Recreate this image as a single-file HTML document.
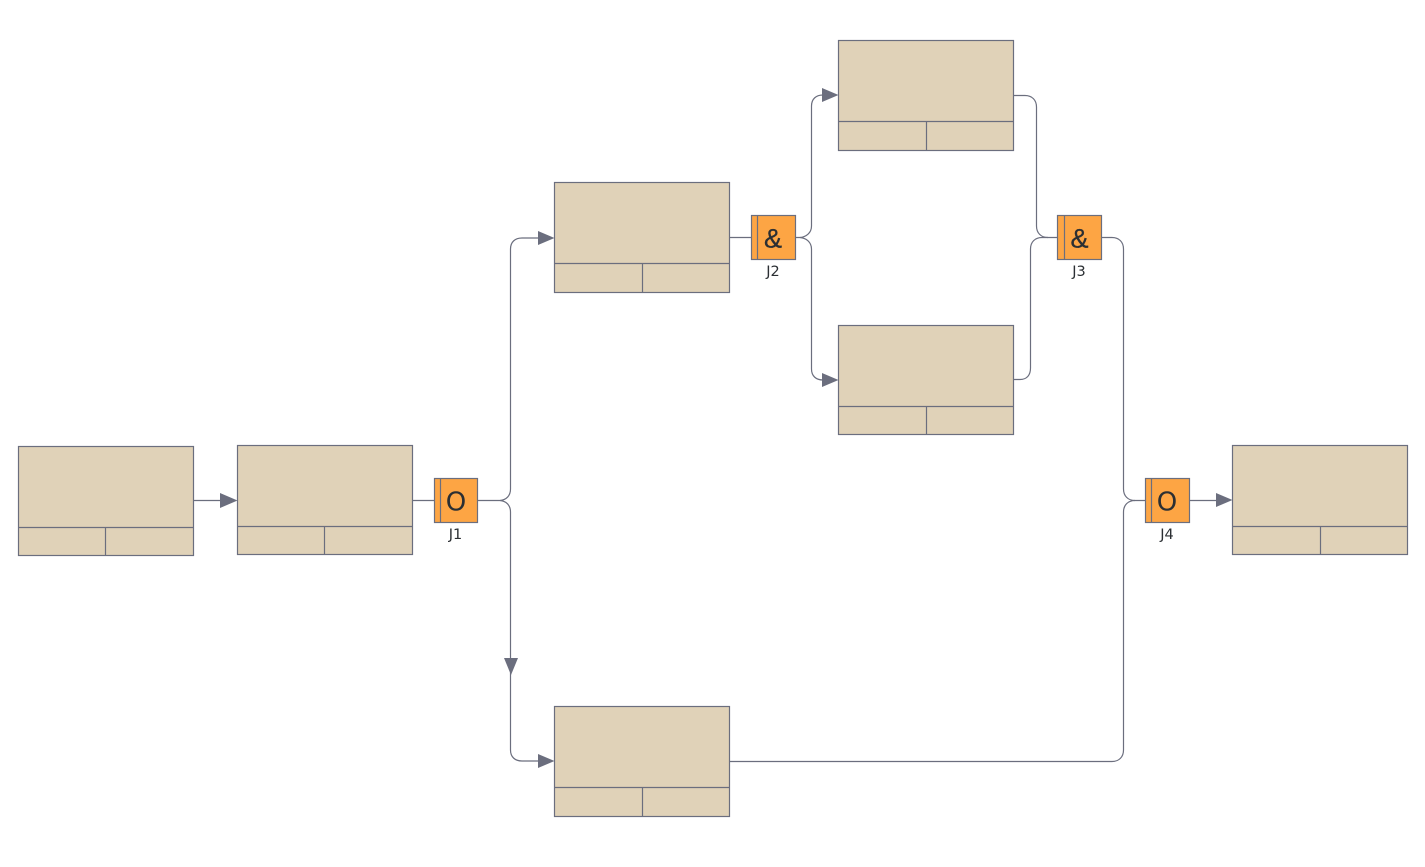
<!DOCTYPE html>
<html>
<head>
<meta charset="utf-8">
<style>
html,body{margin:0;padding:0;background:#fff;width:1425px;height:867px;overflow:hidden}
svg{display:block}
text{font-family:"Liberation Sans","DejaVu Sans",sans-serif;fill:#2b2f33;text-anchor:middle}
.b{fill:#e0d2b8;stroke:#6b6e7e;stroke-width:1.2}
.l{fill:none;stroke:#6b6e7e;stroke-width:1.2}
.g{fill:#fda544;stroke:#6b6e7e;stroke-width:1.2}
.a{fill:#6b6e7e;stroke:none}
.big{font-size:26px;font-family:"DejaVu Sans",sans-serif}
.amp{font-size:27px;font-family:"Liberation Sans",sans-serif;stroke:#2b2f33;stroke-width:.3}
.s{font-size:14.5px;font-family:"DejaVu Sans",sans-serif}
</style>
</head>
<body>
<svg width="1425" height="867" viewBox="0 0 1425 867" xmlns="http://www.w3.org/2000/svg">
<!-- connectors -->
<path class="l" d="M193.5 500.5H222"/>
<path class="l" d="M412.5 500.5H434.5"/>
<path class="l" d="M477.5 500.5H500C506 500 510.5 496 510.5 489V249C510.5 242 515 238 522 238H540"/>
<path class="l" d="M500 500.5C506 501 510.5 505 510.5 512V750C510.5 757 515 761 522 761H540"/>
<path class="l" d="M729.5 237.5H751.5"/>
<path class="l" d="M795.5 237.5H800C806 237 811.5 233 811.5 226V106C811.5 99 816 95 823 95H825"/>
<path class="l" d="M800 237.5C806 238 811.5 242 811.5 249V369C811.5 376 816 380 823 380H825"/>
<path class="l" d="M1013.5 95.5H1025C1032 95.5 1036.5 100 1036.5 107V226C1036.5 233 1041 237.5 1048 237.5H1057.5"/>
<path class="l" d="M1013.5 379.5H1020C1027 379.5 1030.5 375 1030.5 368V249C1030.5 242 1035 237.5 1042 237.5H1048"/>
<path class="l" d="M1101.5 237.5H1112C1119 237.5 1123.5 242 1123.5 249V489C1123.5 496 1128 500.5 1135 500.5H1145.5"/>
<path class="l" d="M729.5 761.5H1112C1119 761.5 1123.5 757 1123.5 750V512C1123.5 505 1128 500.5 1135 500.5"/>
<path class="l" d="M1189.5 500.5H1218"/>
<!-- arrowheads -->
<polygon class="a" points="220,493 237.5,500.5 220,508"/>
<polygon class="a" points="538,231 554.5,238 538,245"/>
<polygon class="a" points="504,658 518,658 511,675"/>
<polygon class="a" points="538,754 554.5,761 538,768"/>
<polygon class="a" points="822,88 838.5,95 822,102"/>
<polygon class="a" points="822,373 838.5,380 822,387"/>
<polygon class="a" points="1216,493 1232.5,500 1216,507"/>
<!-- boxes -->
<g>
<rect class="b" x="18.5" y="446.5" width="175" height="109"/><path class="l" d="M18.5 527.5H193.5M105.5 527.5V555.5"/>
<rect class="b" x="237.5" y="445.5" width="175" height="109"/><path class="l" d="M237.5 526.5H412.5M324.5 526.5V554.5"/>
<rect class="b" x="554.5" y="182.5" width="175" height="110"/><path class="l" d="M554.5 263.5H729.5M642.5 263.5V292.5"/>
<rect class="b" x="838.5" y="40.5" width="175" height="110"/><path class="l" d="M838.5 121.5H1013.5M926.5 121.5V150.5"/>
<rect class="b" x="838.5" y="325.5" width="175" height="109"/><path class="l" d="M838.5 406.5H1013.5M926.5 406.5V434.5"/>
<rect class="b" x="554.5" y="706.5" width="175" height="110"/><path class="l" d="M554.5 787.5H729.5M642.5 787.5V816.5"/>
<rect class="b" x="1232.5" y="445.5" width="175" height="109"/><path class="l" d="M1232.5 526.5H1407.5M1320.5 526.5V554.5"/>
</g>
<!-- junctions -->
<rect class="g" x="434.5" y="478.5" width="43" height="44"/><path class="l" d="M440.5 478.5V522.5"/>
<text class="big" x="456" y="510.5">O</text><text class="s" x="455.5" y="539">J1</text>
<rect class="g" x="751.5" y="215.5" width="44" height="44"/><path class="l" d="M757.5 215.5V259.5"/>
<text class="amp" x="773" y="247.5">&amp;</text><text class="s" x="773" y="276">J2</text>
<rect class="g" x="1057.5" y="215.5" width="44" height="44"/><path class="l" d="M1064.5 215.5V259.5"/>
<text class="amp" x="1079.5" y="247.5">&amp;</text><text class="s" x="1079" y="276">J3</text>
<rect class="g" x="1145.5" y="478.5" width="44" height="44"/><path class="l" d="M1151.5 478.5V522.5"/>
<text class="big" x="1167" y="510.5">O</text><text class="s" x="1167" y="539">J4</text>
</svg>
</body>
</html>
